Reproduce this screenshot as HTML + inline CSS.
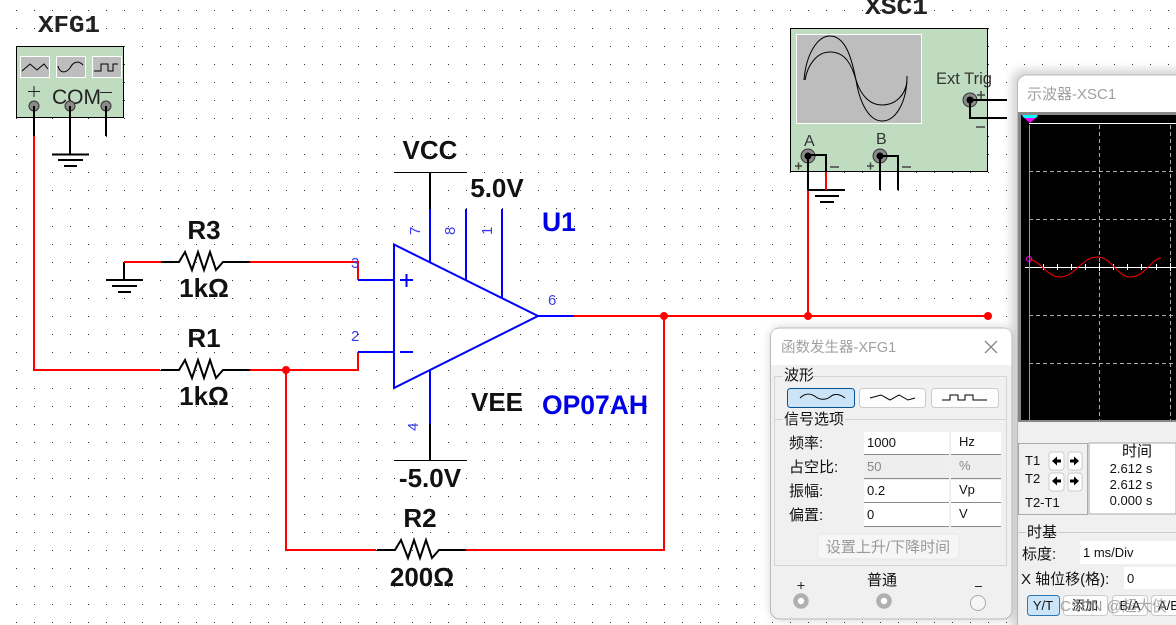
<!DOCTYPE html>
<html><head><meta charset="utf-8">
<style>
html,body{margin:0;padding:0;background:#fff;width:1176px;height:625px;overflow:hidden}
svg{display:block}
text{font-family:"Liberation Sans","Noto Sans CJK SC",sans-serif}
.lb{font-weight:bold;font-size:26px;fill:#111;text-anchor:middle}
.bl{font-weight:bold;font-size:26.500px;fill:#0000e6}
.pin{font-size:15px;fill:#3a3af0}
.mono{font-family:"Liberation Mono",monospace;font-weight:bold;font-size:24px;fill:#222}
.ui{font-size:15px;fill:#111}
.s{font-size:13px;fill:#111}
.r{stroke:#f00;stroke-width:2;fill:none}
.k{stroke:#000;stroke-width:2;fill:none}
.b{stroke:#00f;stroke-width:2;fill:none}
.t{stroke:#000;stroke-width:1;fill:none}
</style></head><body>
<svg width="1176" height="625" viewBox="0 0 1176 625" xmlns="http://www.w3.org/2000/svg">
<defs>
<pattern id="d" x="16" y="10" width="18" height="18" patternUnits="userSpaceOnUse"><rect width="1" height="1" fill="#333"/></pattern>
<filter id="sh" x="-10%" y="-10%" width="120%" height="120%"><feGaussianBlur stdDeviation="5"/></filter>
</defs>
<rect width="1176" height="625" fill="#fff"/>
<rect width="1176" height="625" fill="url(#d)"/>

<!-- XFG1 -->
<text x="38" y="32" class="mono" textLength="62" lengthAdjust="spacingAndGlyphs">XFG1</text>
<rect x="16.500" y="46.500" width="107" height="71" fill="#c0dcc0" stroke="#000"/>
<g fill="#bdbdbd" stroke="#fff"><rect x="20.500" y="56.500" width="29" height="21"/><rect x="56.500" y="56.500" width="29" height="21"/><rect x="92.500" y="56.500" width="29" height="21"/></g>
<path d="M22 71 L30 64 L37 70 L44 64 L48 69" class="t" stroke-width=".8"/>
<path d="M58 66 C60 74 66 73 70 68 C73 62 78 60 83 65" class="t"/>
<path d="M94 71 H101 V64 H108 V71 H113 V64 H118" class="t"/>
<path d="M28 91.500 H40 M34 86 V97 M100 92.500 H112" stroke="#222" fill="none"/>
<text x="52" y="104" font-size="21" fill="#222">COM</text>
<g fill="#8a8a8a" stroke="#333"><circle cx="34" cy="106" r="5"/><circle cx="70" cy="106" r="5"/><circle cx="106" cy="106" r="5"/></g>
<path d="M34 106 V136 M70 106 V154 M106 106 V136" class="k"/>
<path d="M52 154.500 H89 M58 160 H83 M64 166 H77" class="k"/>
<path d="M34 136 V370 H160" class="r"/>

<!-- R3 -->
<text x="204" y="239" class="lb">R3</text>
<text x="204" y="297" class="lb">1kΩ</text>
<path d="M124 262 V280" class="k"/>
<path d="M106 280 H143 M112 286 H137 M118 292 H131" class="k"/>
<path d="M124 262 H161" class="r"/>
<path d="M161 262 H179 L185 252 L192 270 L198 252 L204 270 L210 252 L216 270 L223 262 H250" class="k"/>
<path d="M250 262 H358 V280" class="r"/>

<!-- R1 -->
<text x="204" y="347" class="lb">R1</text>
<text x="204" y="405" class="lb">1kΩ</text>
<path d="M161 370 H179 L185 360 L192 378 L198 360 L204 378 L210 360 L216 378 L223 370 H250" class="k"/>
<path d="M250 370 H358 V352" class="r"/>
<path d="M286 370 V550 H376" class="r"/>
<circle cx="286" cy="370" r="4" fill="#f00"/>

<!-- R2 -->
<text x="420" y="527" class="lb">R2</text>
<text x="422" y="586" class="lb">200Ω</text>
<path d="M377 550 H395 L401 540 L408 558 L414 540 L420 558 L426 540 L432 558 L439 550 H466" class="k"/>
<path d="M466 550 H664 V316" class="r"/>

<!-- Op amp -->
<path d="M394 244.500 V388 L538 316 Z" class="b" stroke-linejoin="miter"/>
<path d="M358 280 H394 M358 352 H394 M538 316 H574 M430 262 V209 M466 280 V209 M502 298 V209 M430 370 V424" class="b"/>
<path d="M400 280 H413 M406.500 274 V287 M400 352 H413" class="b"/>
<path d="M394 172.500 H467" stroke="#000" fill="none"/>
<path d="M430 172 V209 M430 424 V460" class="k"/>
<path d="M394 460.500 H467" stroke="#000" fill="none"/>
<text x="430" y="159" class="lb">VCC</text>
<text x="497" y="197" class="lb">5.0V</text>
<text x="497" y="411" class="lb">VEE</text>
<text x="430" y="487" class="lb">-5.0V</text>
<text x="542" y="231" class="bl">U1</text>
<text x="542" y="414" class="bl">OP07AH</text>
<text transform="translate(420,235) rotate(-90)" class="pin">7</text>
<text transform="translate(455,235) rotate(-90)" class="pin">8</text>
<text transform="translate(492,235) rotate(-90)" class="pin">1</text>
<text transform="translate(418,431) rotate(-90)" class="pin">4</text>
<text x="351" y="268" class="pin">3</text>
<text x="351" y="341" class="pin">2</text>
<text x="548" y="305" class="pin">6</text>

<path d="M574 316 H988" class="r"/>
<circle cx="664" cy="316" r="4" fill="#f00"/>
<circle cx="808" cy="316" r="4" fill="#f00"/>
<circle cx="988" cy="316" r="4" fill="#f00"/>
<path d="M808 190 V316" class="r"/>

<!-- XSC1 -->
<text x="865" y="14" class="mono" textLength="63" lengthAdjust="spacingAndGlyphs">XSC1</text>
<rect x="790.500" y="28.500" width="197" height="143" fill="#c0dcc0" stroke="#000"/>
<rect x="796.500" y="34.500" width="125" height="89" fill="#bdbdbd" stroke="#fff"/>
<path d="M804 80 C806 55 817 36 830 36 C846 36 852 60 856 80 C860 105 870 121 882 121 C897 121 907 100 907 76" class="t"/>
<path d="M805 80 C808 63 818 52 830 52 C846 52 852 66 856 80 C861 96 870 105 882 105 C896 105 905 95 907 82" class="t"/>
<text x="936" y="84" font-size="16.500" fill="#333">Ext Trig</text>
<text x="804" y="146" font-size="16" fill="#333">A</text>
<text x="876" y="144" font-size="16" fill="#333">B</text>
<g fill="#8a8a8a" stroke="#333"><circle cx="808" cy="156" r="7"/><circle cx="880" cy="156" r="7"/><circle cx="970" cy="100" r="7"/></g>
<g fill="#000"><circle cx="808" cy="156" r="3.500"/><circle cx="880" cy="156" r="3.500"/><circle cx="970" cy="100" r="3.500"/></g>
<path d="M795 166 H802 M798.500 162.500 V169.500 M867 166 H874 M870.500 162.500 V169.500 M830 167 H839 M902 167 H911 M977 95 H985 M981 91 V99 M976 127 H985" stroke="#444" stroke-width="1.500" fill="none"/>
<path d="M808 156 V190 M808 190 H845 M815 196 H839 M820 202 H834" class="k"/>
<path d="M808 155 H826 V172" class="k"/>
<path d="M826 172 V190" class="r"/>
<path d="M880 156 V190 M880 156 H898 V190" class="k"/>
<path d="M970 100 H1007 M970 100 V118 H1007" class="k"/>

<!-- Oscilloscope window -->
<rect x="1012" y="70" width="180" height="565" rx="10" fill="#000" opacity=".18" filter="url(#sh)"/>
<rect x="1017.500" y="75" width="175" height="560" rx="9" fill="#fff" stroke="#bbb"/>
<text x="1027" y="99" font-size="15" fill="#a0a0a0">示波器-XSC1</text>
<rect x="1018" y="112" width="158" height="513" fill="#f0f0f0"/>
<rect x="1018" y="112" width="158" height="310" fill="#888"/>
<rect x="1021" y="115" width="155" height="305" fill="#000"/>
<path d="M1029 123.500 H1176 M1025 267.500 H1176" stroke="#fff" fill="none"/>
<path d="M1099.500 125 V420 M1170.500 125 V420 M1029 171.500 H1176 M1029 219.500 H1176 M1029 315.500 H1176 M1029 363.500 H1176" stroke="#aaa" stroke-dasharray="4 3" fill="none"/>
<path d="M1029.500 125 V420" stroke="#2fdc2f" fill="none"/>
<path d="M1043.500 264 V270 M1057.500 264 V270 M1071.500 264 V270 M1085.500 264 V270 M1113.500 264 V270 M1127.500 264 V270 M1141.500 264 V270 M1156.500 264 V270 M1099.500 263 V271 M1170.500 263 V271" stroke="#fff" fill="none"/>
<path d="M1022 116 H1038 L1030 123 Z" fill="#f0f"/><path d="M1022 115 H1038 L1036 118 H1024 Z" fill="#0ff"/>
<circle cx="1029" cy="259" r="2.500" fill="none" stroke="#f0f"/>
<path d="M1029 259 C1042 262 1047 277 1060 277 C1075 277 1082 257 1097 257 C1112 257 1117 277 1130 277 C1145 277 1150 260 1161 258" stroke="#f00" stroke-width="1" fill="none"/>

<!-- cursors -->
<rect x="1018.500" y="443.500" width="69" height="71" fill="#f0f0f0" stroke="#aaa"/>
<rect x="1089" y="443" width="87" height="71" fill="#fff" stroke="#aaa"/>
<text x="1025" y="465" class="s">T1</text>
<text x="1025" y="483" class="s">T2</text>
<text x="1025" y="507" class="s">T2-T1</text>
<g fill="#fff" stroke="#ccc"><rect x="1049" y="452" width="15" height="18" rx="3"/><rect x="1068" y="452" width="14" height="18" rx="3"/><rect x="1049" y="473" width="15" height="18" rx="3"/><rect x="1068" y="473" width="14" height="18" rx="3"/></g>
<path d="M1052 461 L1057 456.500 V459.500 H1061 V462.500 H1057 V465.500 Z M1079 461 L1074 456.500 V459.500 H1070 V462.500 H1074 V465.500 Z M1052 481 L1057 476.500 V479.500 H1061 V482.500 H1057 V485.500 Z M1079 481 L1074 476.500 V479.500 H1070 V482.500 H1074 V485.500 Z" fill="#000"/>
<text x="1137" y="456" text-anchor="middle" class="ui">时间</text>
<text x="1131" y="473" text-anchor="middle" class="s">2.612 s</text>
<text x="1131" y="489" text-anchor="middle" class="s">2.612 s</text>
<text x="1131" y="505" text-anchor="middle" class="s">0.000 s</text>
<path d="M1018 532.500 H1026 M1058 532.500 H1176" stroke="#ccc" fill="none"/>
<text x="1027" y="537" class="ui">时基</text>
<text x="1022" y="559" class="ui">标度:</text>
<rect x="1080" y="541" width="96" height="23" fill="#fff"/>
<text x="1083" y="557" class="s">1 ms/Div</text>
<text x="1021" y="584" class="ui">X 轴位移(格):</text>
<rect x="1124" y="567" width="52" height="22" fill="#fff"/>
<text x="1127" y="583" class="s">0</text>
<rect x="1027.500" y="595.500" width="32" height="20" rx="3" fill="#cce4f7" stroke="#2a78b8"/>
<rect x="1063.500" y="595.500" width="44" height="20" rx="3" fill="#fdfdfd" stroke="#ccc"/>
<rect x="1112.500" y="595.500" width="35" height="20" rx="3" fill="#fdfdfd" stroke="#ccc"/>
<rect x="1151.500" y="595.500" width="35" height="20" rx="3" fill="#fdfdfd" stroke="#ccc"/>
<text x="1043" y="610" text-anchor="middle" class="s">Y/T</text>
<text x="1085" y="610" text-anchor="middle" class="s">添加</text>
<text x="1130" y="610" text-anchor="middle" class="s">B/A</text>
<text x="1158" y="610" class="s">A/B</text>
<text x="1060" y="611" font-size="15" fill="#888" opacity=".75">CSDN @超大侠</text>

<!-- Function generator window -->
<rect x="771" y="328" width="241" height="291" rx="10" fill="#000" opacity=".2" filter="url(#sh)"/>
<rect x="770.500" y="328" width="241.500" height="291" rx="9" fill="#f0f0f0" stroke="#bbb"/>
<path d="M771 365 V337 Q771 328.500 780 328.500 H1003 Q1011.500 328.500 1011.500 337 V365 Z" fill="#fff"/>
<text x="781" y="352" font-size="14.500" fill="#a0a0a0">函数发生器-XFG1</text>
<path d="M985 341 L997 353 M997 341 L985 353" stroke="#888" stroke-width="1.300" fill="none"/>
<path d="M783 376.500 H774.500 V565.500 H1006.500 V376.500 H814" stroke="#d4d4d4" fill="none"/>
<path d="M775 419.500 H783 M845 419.500 H1006" stroke="#d4d4d4" fill="none"/>
<text x="784" y="380" class="ui">波形</text>
<text x="784" y="424" class="ui">信号选项</text>
<rect x="787.500" y="388.500" width="67" height="19" rx="3" fill="#cce4f7" stroke="#005499"/>
<rect x="859.500" y="388.500" width="66" height="19" rx="3" fill="#fdfdfd" stroke="#ccc"/>
<rect x="931.500" y="388.500" width="67" height="19" rx="3" fill="#fdfdfd" stroke="#ccc"/>
<path d="M800 398 C806 392 812 394 816 397 C820 400 826 400 830 397 C834 393 840 394 845 398" class="t"/>
<path d="M870 398 L881 395 L890 400 L899 395 L908 400 L915 398" class="t"/>
<path d="M942 400 H950 V395 H958 V400 H965 V395 H973 V400 H987" class="t"/>
<text x="789" y="448" class="ui">频率:</text>
<text x="789" y="472" class="ui">占空比:</text>
<text x="789" y="496" class="ui">振幅:</text>
<text x="789" y="520" class="ui">偏置:</text>
<g fill="#fff">
<rect x="864" y="432" width="85" height="22"/><rect x="951" y="432" width="50" height="22"/>
<rect x="864" y="480" width="85" height="22"/><rect x="951" y="480" width="50" height="22"/>
<rect x="864" y="503" width="85" height="23"/><rect x="951" y="503" width="50" height="23"/>
</g>
<rect x="864" y="456" width="85" height="22" fill="#eee"/><rect x="951" y="456" width="50" height="22" fill="#eee"/>
<path d="M864 454.500 H949 M951 454.500 H1001 M864 478.500 H949 M951 478.500 H1001 M864 502.500 H949 M951 502.500 H1001 M864 526.500 H949 M951 526.500 H1001" stroke="#8a8a8a" fill="none"/>
<text x="867" y="447" class="s">1000</text><text x="959" y="446" class="s">Hz</text>
<text x="867" y="471" fill="#888" font-size="13">50</text><text x="959" y="470" fill="#888" font-size="13">%</text>
<text x="867" y="495" class="s">0.2</text><text x="959" y="494" class="s">Vp</text>
<text x="867" y="519" class="s">0</text><text x="959" y="518" class="s">V</text>
<rect x="818" y="534" width="141" height="25" rx="3" fill="#f6f6f6" stroke="#e8e8e8"/>
<text x="888" y="552" text-anchor="middle" font-size="15" fill="#999">设置上升/下降时间</text>
<text x="882" y="585" text-anchor="middle" class="ui">普通</text>
<path d="M797.500 585.500 H804.500 M801 582 V589 M975 586.500 H982" stroke="#222" fill="none"/>
<circle cx="801" cy="601" r="5.500" fill="#fff" stroke="#b0b0b0" stroke-width="4.500"/>
<circle cx="884" cy="601" r="5.500" fill="#fff" stroke="#b0b0b0" stroke-width="4.500"/>
<circle cx="978" cy="603" r="7.500" fill="#f6f6f6" stroke="#aaa"/>
</svg>
</body></html>
